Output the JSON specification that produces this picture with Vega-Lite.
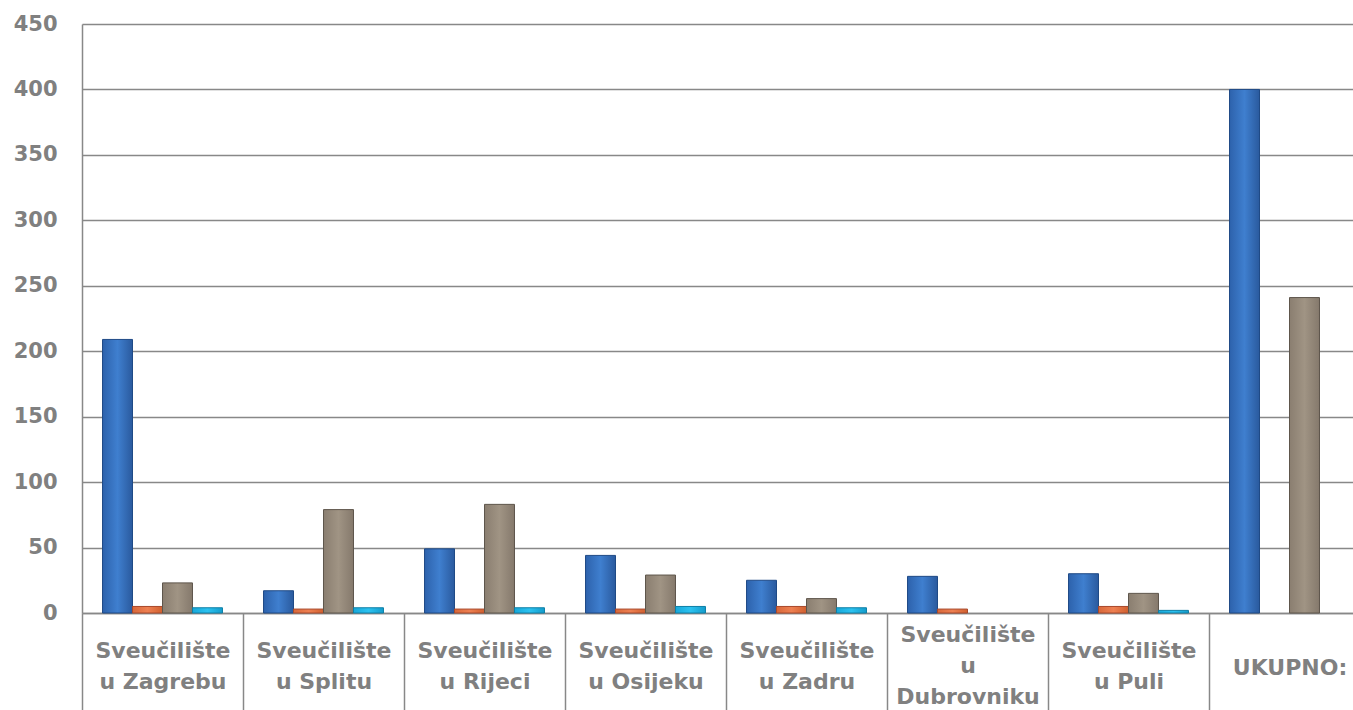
{
  "$schema": "https://vega.github.io/schema/vega-lite/v6.json",
  "width": 1271,
  "height": 589,
  "autosize": {"type": "none"},
  "padding": {"left": 82, "top": 24, "right": 0, "bottom": 97},
  "background": "white",
  "config": {"view": {"stroke": null}},
  "data": {
    "values": [
      {"uni": "Sveučilište|u Zagrebu", "series": "s1", "value": 209},
      {"uni": "Sveučilište|u Zagrebu", "series": "s2", "value": 5},
      {"uni": "Sveučilište|u Zagrebu", "series": "s3", "value": 23},
      {"uni": "Sveučilište|u Zagrebu", "series": "s4", "value": 4},
      {"uni": "Sveučilište|u Splitu", "series": "s1", "value": 17},
      {"uni": "Sveučilište|u Splitu", "series": "s2", "value": 3},
      {"uni": "Sveučilište|u Splitu", "series": "s3", "value": 79},
      {"uni": "Sveučilište|u Splitu", "series": "s4", "value": 4},
      {"uni": "Sveučilište|u Rijeci", "series": "s1", "value": 49},
      {"uni": "Sveučilište|u Rijeci", "series": "s2", "value": 3},
      {"uni": "Sveučilište|u Rijeci", "series": "s3", "value": 83},
      {"uni": "Sveučilište|u Rijeci", "series": "s4", "value": 4},
      {"uni": "Sveučilište|u Osijeku", "series": "s1", "value": 44},
      {"uni": "Sveučilište|u Osijeku", "series": "s2", "value": 3},
      {"uni": "Sveučilište|u Osijeku", "series": "s3", "value": 29},
      {"uni": "Sveučilište|u Osijeku", "series": "s4", "value": 5},
      {"uni": "Sveučilište|u Zadru", "series": "s1", "value": 25},
      {"uni": "Sveučilište|u Zadru", "series": "s2", "value": 5},
      {"uni": "Sveučilište|u Zadru", "series": "s3", "value": 11},
      {"uni": "Sveučilište|u Zadru", "series": "s4", "value": 4},
      {"uni": "Sveučilište|u|Dubrovniku", "series": "s1", "value": 28},
      {"uni": "Sveučilište|u|Dubrovniku", "series": "s2", "value": 3},
      {"uni": "Sveučilište|u Puli", "series": "s1", "value": 30},
      {"uni": "Sveučilište|u Puli", "series": "s2", "value": 5},
      {"uni": "Sveučilište|u Puli", "series": "s3", "value": 15},
      {"uni": "Sveučilište|u Puli", "series": "s4", "value": 2},
      {"uni": "UKUPNO:", "series": "s1", "value": 400},
      {"uni": "UKUPNO:", "series": "s3", "value": 241}
    ]
  },
  "encoding": {
    "x": {
      "field": "uni",
      "type": "nominal",
      "scale": {
        "domain": ["Sveučilište|u Zagrebu", "Sveučilište|u Splitu", "Sveučilište|u Rijeci", "Sveučilište|u Osijeku", "Sveučilište|u Zadru", "Sveučilište|u|Dubrovniku", "Sveučilište|u Puli", "UKUPNO:"],
        "range": [0, 1288],
        "paddingInner": 0.255,
        "paddingOuter": 0.1275
      },
      "axis": {
        "title": null,
        "labelExpr": "split(datum.label, '|')",
        "labelAngle": 0,
        "labelFont": "DejaVu Sans",
        "labelFontWeight": "bold",
        "labelFontSize": 22,
        "labelColor": "#808080",
        "labelLineHeight": 31,
        "labelBaseline": "middle",
        "labelPadding": {
          "condition": [
            {"test": "datum.value == 'UKUPNO:'", "value": -43},
            {"test": "indexof(datum.value, 'Dubrovniku') >= 0", "value": -76}
          ],
          "value": -60
        },
        "labelOffset": 20.5,
        "labelLimit": 300,
        "bandPosition": 0,
        "tickOffset": -20.5,
        "tickSize": 97,
        "tickWidth": 1.5,
        "tickColor": "#888888",
        "domainColor": "#888888",
        "domainWidth": 1.5,
        "grid": false
      }
    },
    "xOffset": {
      "field": "series",
      "type": "nominal",
      "scale": {"domain": ["s1", "s2", "s3", "s4"], "paddingInner": 0, "paddingOuter": 0}
    },
    "y": {
      "field": "value",
      "type": "quantitative",
      "scale": {"domain": [0, 450], "nice": false},
      "axis": {
        "title": null,
        "values": [0, 50, 100, 150, 200, 250, 300, 350, 400, 450],
        "labelFont": "DejaVu Sans",
        "labelFontWeight": "bold",
        "labelFontSize": 21,
        "labelColor": "#808080",
        "labelPadding": 25,
        "ticks": false,
        "domainColor": "#888888",
        "domainWidth": 1.5,
        "gridColor": "#888888",
        "gridWidth": 1.5
      }
    }
  },
  "layer": [
    {
      "transform": [{"filter": "datum.series == 's1'"}],
      "mark": {
        "type": "bar",
        "stroke": "#1F4A86",
        "strokeWidth": 1,
        "color": {"gradient": "linear", "x1": 0, "x2": 1, "y1": 0, "y2": 0,
          "stops": [{"offset": 0, "color": "#2D62AC"}, {"offset": 0.5, "color": "#3F7FCF"}, {"offset": 1, "color": "#2A5A9E"}]}
      }
    },
    {
      "transform": [{"filter": "datum.series == 's2'"}],
      "mark": {
        "type": "bar",
        "stroke": "#A8482A",
        "strokeWidth": 1,
        "color": {"gradient": "linear", "x1": 0, "x2": 1, "y1": 0, "y2": 0,
          "stops": [{"offset": 0, "color": "#D8683A"}, {"offset": 0.5, "color": "#EE8052"}, {"offset": 1, "color": "#D0602F"}]}
      }
    },
    {
      "transform": [{"filter": "datum.series == 's3'"}],
      "mark": {
        "type": "bar",
        "stroke": "#5E564C",
        "strokeWidth": 1,
        "color": {"gradient": "linear", "x1": 0, "x2": 1, "y1": 0, "y2": 0,
          "stops": [{"offset": 0, "color": "#8A7E70"}, {"offset": 0.5, "color": "#A09484"}, {"offset": 1, "color": "#85796C"}]}
      }
    },
    {
      "transform": [{"filter": "datum.series == 's4'"}],
      "mark": {
        "type": "bar",
        "stroke": "#0E7FA6",
        "strokeWidth": 1,
        "color": {"gradient": "linear", "x1": 0, "x2": 1, "y1": 0, "y2": 0,
          "stops": [{"offset": 0, "color": "#17A8DA"}, {"offset": 0.5, "color": "#2CC2F0"}, {"offset": 1, "color": "#149CCB"}]}
      }
    }
  ]
}
